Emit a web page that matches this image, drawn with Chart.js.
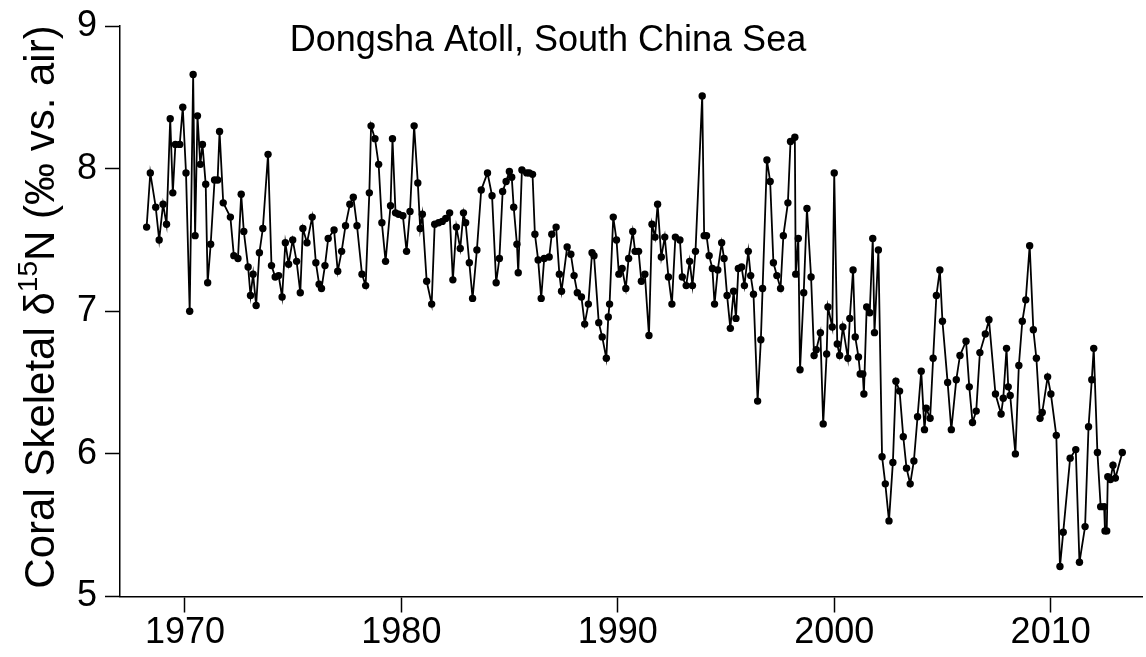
<!DOCTYPE html>
<html>
<head>
<meta charset="utf-8">
<script src="https://cdn.jsdelivr.net/npm/chart.js@4/dist/chart.umd.min.js"></script>
<style>
  html, body { margin: 0; padding: 0; background: #fff; }
  canvas { display: block; }
</style>
</head>
<body>
<canvas id="chart" width="1146" height="657"></canvas>
<script>
// decimal year of each coral sample and its d15N value (per mil vs. air)
const years = [
  1968.23, 1968.40, 1968.65, 1968.81, 1968.99, 1969.15, 1969.32, 1969.44, 1969.56, 1969.76,
  1969.90, 1970.05, 1970.22, 1970.38, 1970.47, 1970.58, 1970.71, 1970.81, 1970.96, 1971.05,
  1971.19, 1971.37, 1971.51, 1971.60, 1971.77, 1972.10, 1972.26, 1972.45, 1972.60, 1972.72,
  1972.92, 1973.03, 1973.15, 1973.29, 1973.44, 1973.60, 1973.84, 1974.00, 1974.17, 1974.33,
  1974.49, 1974.64, 1974.79, 1974.98, 1975.16, 1975.33, 1975.45, 1975.64, 1975.88, 1976.05,
  1976.20, 1976.31, 1976.47, 1976.62, 1976.89, 1977.06, 1977.24, 1977.42,
  1977.62, 1977.78, 1977.95, 1978.18, 1978.35, 1978.52, 1978.60, 1978.78, 1978.95, 1979.10,
  1979.27, 1979.50, 1979.59, 1979.73, 1979.87, 1980.07, 1980.24, 1980.40, 1980.59, 1980.76,
  1980.87, 1980.97, 1981.17, 1981.40, 1981.54, 1981.72, 1981.89,
  1982.05, 1982.23, 1982.38, 1982.54, 1982.72, 1982.87, 1982.97, 1983.14, 1983.29, 1983.49,
  1983.69, 1983.98, 1984.19, 1984.38, 1984.53, 1984.68, 1984.84, 1984.99, 1985.10, 1985.19,
  1985.34, 1985.40, 1985.57, 1985.79, 1985.91, 1986.06, 1986.17, 1986.32, 1986.46, 1986.60,
  1986.83, 1986.95, 1987.15, 1987.30, 1987.40, 1987.66, 1987.83, 1987.98, 1988.13, 1988.32,
  1988.47, 1988.64, 1988.81, 1988.90, 1989.12, 1989.28, 1989.47, 1989.56, 1989.62, 1989.79,
  1989.94, 1990.05, 1990.20, 1990.37, 1990.50, 1990.69, 1990.80, 1990.96, 1991.09,
  1991.25, 1991.44, 1991.58, 1991.72, 1991.84, 1992.01, 1992.17, 1992.34, 1992.50, 1992.66,
  1992.87, 1992.98, 1993.16, 1993.32, 1993.45, 1993.59, 1993.90, 1993.99, 1994.10, 1994.22,
  1994.37, 1994.47, 1994.62, 1994.80, 1994.91, 1995.05, 1995.20, 1995.35, 1995.46, 1995.57,
  1995.72,
  1995.85, 1996.03, 1996.14, 1996.27, 1996.46, 1996.61, 1996.69, 1996.89, 1997.04, 1997.19,
  1997.35, 1997.52, 1997.65, 1997.86, 1997.98, 1998.18, 1998.22, 1998.34, 1998.42, 1998.59,
  1998.74, 1998.93, 1999.07, 1999.17, 1999.36, 1999.49, 1999.65, 1999.71, 1999.91, 2000.00,
  2000.14, 2000.25, 2000.40,
  2000.63, 2000.72, 2000.87, 2000.97, 2001.12, 2001.20, 2001.32, 2001.37, 2001.50, 2001.64,
  2001.78, 2001.86, 2002.04, 2002.21, 2002.36, 2002.53, 2002.71, 2002.85, 2003.02, 2003.19,
  2003.34, 2003.51, 2003.68, 2003.85, 2004.02, 2004.17, 2004.25, 2004.43, 2004.57, 2004.72,
  2004.88, 2005.00,
  2005.24, 2005.41, 2005.64, 2005.81, 2006.09, 2006.24, 2006.39, 2006.56, 2006.73, 2006.98,
  2007.15, 2007.45, 2007.71, 2007.81, 2007.96, 2008.04, 2008.13, 2008.37, 2008.53, 2008.69,
  2008.85, 2009.03, 2009.20, 2009.34, 2009.51,
  2009.61, 2009.86, 2010.01, 2010.26, 2010.43, 2010.58, 2010.90, 2011.16, 2011.33, 2011.59,
  2011.75, 2011.90, 2011.99, 2012.16, 2012.31, 2012.47, 2012.51, 2012.59, 2012.64, 2012.76,
  2012.88, 2012.99, 2013.31
];

const d15N = [
  7.59, 7.97, 7.73, 7.50, 7.75, 7.61, 8.35, 7.83, 8.17, 8.17,
  8.43, 7.97, 7.00, 8.66, 7.53, 8.37, 8.03, 8.17, 7.89, 7.20,
  7.47, 7.92, 7.92, 8.26, 7.76, 7.66, 7.39, 7.37, 7.82, 7.56,
  7.31, 7.11, 7.26, 7.04, 7.41, 7.58, 8.10, 7.32, 7.24, 7.25,
  7.10, 7.48, 7.33, 7.50, 7.35, 7.13, 7.58, 7.48, 7.66, 7.34,
  7.19, 7.16, 7.32, 7.51, 7.57, 7.28, 7.42, 7.60,
  7.75, 7.80, 7.60, 7.26, 7.18, 7.83, 8.30, 8.21, 8.03, 7.62,
  7.35, 7.74, 8.21, 7.69, 7.68, 7.67, 7.42, 7.70, 8.30, 7.90,
  7.58, 7.68, 7.21, 7.05, 7.61, 7.62, 7.63,
  7.65, 7.69, 7.22, 7.59, 7.44, 7.69, 7.62, 7.34, 7.09, 7.43,
  7.85, 7.97, 7.81, 7.20, 7.37, 7.84, 7.91, 7.98, 7.94, 7.73,
  7.47, 7.27, 7.99, 7.97, 7.97, 7.96, 7.54, 7.36, 7.09, 7.37,
  7.38, 7.54, 7.59, 7.26, 7.14, 7.45, 7.40, 7.25, 7.13, 7.10,
  6.91, 7.05, 7.41, 7.39, 6.92, 6.82, 6.67, 6.96, 7.05, 7.66,
  7.50, 7.26, 7.30, 7.16, 7.37, 7.56, 7.42, 7.42, 7.21,
  7.26, 6.83, 7.61, 7.52, 7.75, 7.38, 7.52, 7.24, 7.05, 7.52,
  7.50, 7.24, 7.18, 7.35, 7.18, 7.42, 8.51, 7.53, 7.53, 7.39,
  7.30, 7.05, 7.29, 7.48, 7.37, 7.11, 6.88, 7.14, 6.95, 7.30,
  7.31,
  7.18, 7.42, 7.25, 7.12, 6.37, 6.80, 7.16, 8.06, 7.91, 7.34,
  7.25, 7.16, 7.53, 7.76, 8.19, 8.22, 7.26, 7.51, 6.59, 7.13,
  7.72, 7.24, 6.69, 6.73, 6.85, 6.21, 6.70, 7.03, 6.89, 7.97,
  6.77, 6.69, 6.89,
  6.67, 6.95, 7.29, 6.82, 6.68, 6.56, 6.56, 6.42, 7.03, 6.99,
  7.51, 6.85, 7.43, 5.98, 5.79, 5.53, 5.94, 6.51, 6.44, 6.12,
  5.90, 5.79, 5.95, 6.26, 6.58, 6.17, 6.32, 6.25, 6.67, 7.11,
  7.29, 6.93,
  6.50, 6.17, 6.52, 6.69, 6.79, 6.47, 6.22, 6.30, 6.71, 6.84,
  6.94, 6.42, 6.28, 6.39, 6.74, 6.47, 6.41, 6.00, 6.62, 6.93,
  7.08, 7.46, 6.87, 6.67, 6.25,
  6.29, 6.54, 6.42, 6.13, 5.21, 5.45, 5.97, 6.03, 5.24, 5.49,
  6.19, 6.52, 6.74, 6.01, 5.63, 5.63, 5.46, 5.46, 5.84, 5.82,
  5.92, 5.83, 6.01
];

const xTicks = [1970, 1980, 1990, 2000, 2010];
const yTicks = [5, 6, 7, 8, 9];
const titleText = 'Dongsha Atoll, South China Sea';
const yTitleParts = ['Coral Skeletal \u03B4', '15', 'N (\u2030 vs. air)'];

const FONT = '"Liberation Sans", Arial, Helvetica, sans-serif';

// title and y axis title (with superscript) drawn by hand
const labelsPlugin = {
  id: 'labels',
  afterDraw(chart) {
    const ctx = chart.ctx;
    ctx.save();
    ctx.fillStyle = '#000';
    ctx.font = '36px ' + FONT;
    ctx.textAlign = 'center';
    ctx.textBaseline = 'alphabetic';
    ctx.fillText(titleText, 548, 51);

    const big = 42, small = 28;
    ctx.font = big + 'px ' + FONT;
    const w0 = ctx.measureText(yTitleParts[0]).width;
    const w2 = ctx.measureText(yTitleParts[2]).width;
    ctx.font = small + 'px ' + FONT;
    const w1 = ctx.measureText(yTitleParts[1]).width;
    const total = w0 + w1 + w2;
    ctx.translate(54, 307);
    ctx.rotate(-Math.PI / 2);
    ctx.textAlign = 'left';
    let x = -total / 2;
    ctx.font = big + 'px ' + FONT;
    ctx.fillText(yTitleParts[0], x, 0);
    x += w0;
    ctx.font = small + 'px ' + FONT;
    ctx.fillText(yTitleParts[1], x, -17);
    x += w1;
    ctx.font = big + 'px ' + FONT;
    ctx.fillText(yTitleParts[2], x, 0);
    ctx.restore();
  }
};

const points = years.map((yr, i) => ({ x: yr, y: d15N[i] }));

new Chart(document.getElementById('chart'), {
  type: 'line',
  data: {
    datasets: [{
      data: points,
      borderColor: '#000',
      borderWidth: 1.8,
      pointRadius: 3.7,
      pointBackgroundColor: '#000',
      pointBorderWidth: 0,
      tension: 0
    }]
  },
  options: {
    responsive: false,
    animation: false,
    devicePixelRatio: 1,
    layout: { padding: { top: 18, left: 0, right: 0, bottom: 0 } },
    plugins: {
      legend: { display: false },
      tooltip: { enabled: false }
    },
    scales: {
      x: {
        type: 'linear',
        min: 1967,
        max: 2014.22,
        afterBuildTicks: (s) => { s.ticks = xTicks.map(v => ({ value: v })); },
        afterFit: (s) => { s.height = 60.5; },
        grid: { drawOnChartArea: false, drawTicks: true, tickLength: 16, tickColor: '#000', tickWidth: 1.5 },
        border: { display: true, color: '#000', width: 1.5 },
        ticks: {
          color: '#000', padding: 3, maxRotation: 0, autoSkip: false,
          font: { family: FONT, size: 36, lineHeight: 1.0 },
          callback: (v) => String(v)
        }
      },
      y: {
        min: 5,
        max: 9,
        afterBuildTicks: (s) => { s.ticks = yTicks.map(v => ({ value: v })); },
        afterFit: (s) => { s.width = 120; },
        grid: { drawOnChartArea: false, drawTicks: true, tickLength: 15, tickColor: '#000', tickWidth: 1.5 },
        border: { display: true, color: '#000', width: 1.5 },
        ticks: {
          color: '#000', padding: 8,
          font: { family: FONT, size: 36, lineHeight: 1.0 },
          callback: (v) => String(v)
        }
      }
    }
  },
  plugins: [labelsPlugin]
});
</script>
</body>
</html>
